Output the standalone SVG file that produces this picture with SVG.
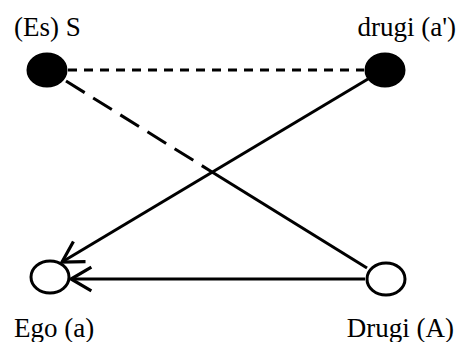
<svg xmlns="http://www.w3.org/2000/svg" width="458" height="342" viewBox="0 0 458 342">
<style>
.lbl{font-family:"Liberation Serif","Times New Roman",serif;font-size:27px;fill:#000}
.ln{stroke:#000;stroke-width:3;fill:none}
.node{stroke:#000;stroke-width:3}
</style>
<defs>
<marker id="arr" markerUnits="userSpaceOnUse" markerWidth="30" markerHeight="30" viewBox="-22 -14 26 28" refX="0" refY="0" orient="auto">
<path d="M-19,-11 L0,0 L-19,11" fill="none" stroke="#000" stroke-width="3"/>
</marker>
</defs>
<rect width="458" height="342" fill="#fff"/>
<g id="connectors">
<line class="ln" x1="68" y1="70" x2="364" y2="70" stroke-dasharray="9,7"/>
<line class="ln" x1="66" y1="81" x2="212" y2="172" stroke-dasharray="22,10"/>
<line class="ln" x1="212" y1="172" x2="367" y2="268"/>
<line class="ln" x1="368" y1="79" x2="62" y2="262" marker-end="url(#arr)"/>
<line class="ln" x1="365" y1="279" x2="71" y2="279" marker-end="url(#arr)"/>
</g>
<g id="S">
<ellipse class="node" cx="47" cy="70" rx="19" ry="16" fill="#000"/>
<text class="lbl" x="14" y="36">(Es) S</text>
</g>
<g id="a-prime">
<ellipse class="node" cx="385" cy="70" rx="19" ry="16" fill="#000"/>
<text class="lbl" x="456" y="36" text-anchor="end">drugi (a')</text>
</g>
<g id="ego">
<ellipse class="node" cx="50" cy="277" rx="19" ry="16" fill="#fff"/>
<text class="lbl" x="14" y="337">Ego (a)</text>
</g>
<g id="A">
<ellipse class="node" cx="386" cy="279" rx="19" ry="16" fill="#fff"/>
<text class="lbl" x="454" y="337" text-anchor="end">Drugi (A)</text>
</g>
</svg>
